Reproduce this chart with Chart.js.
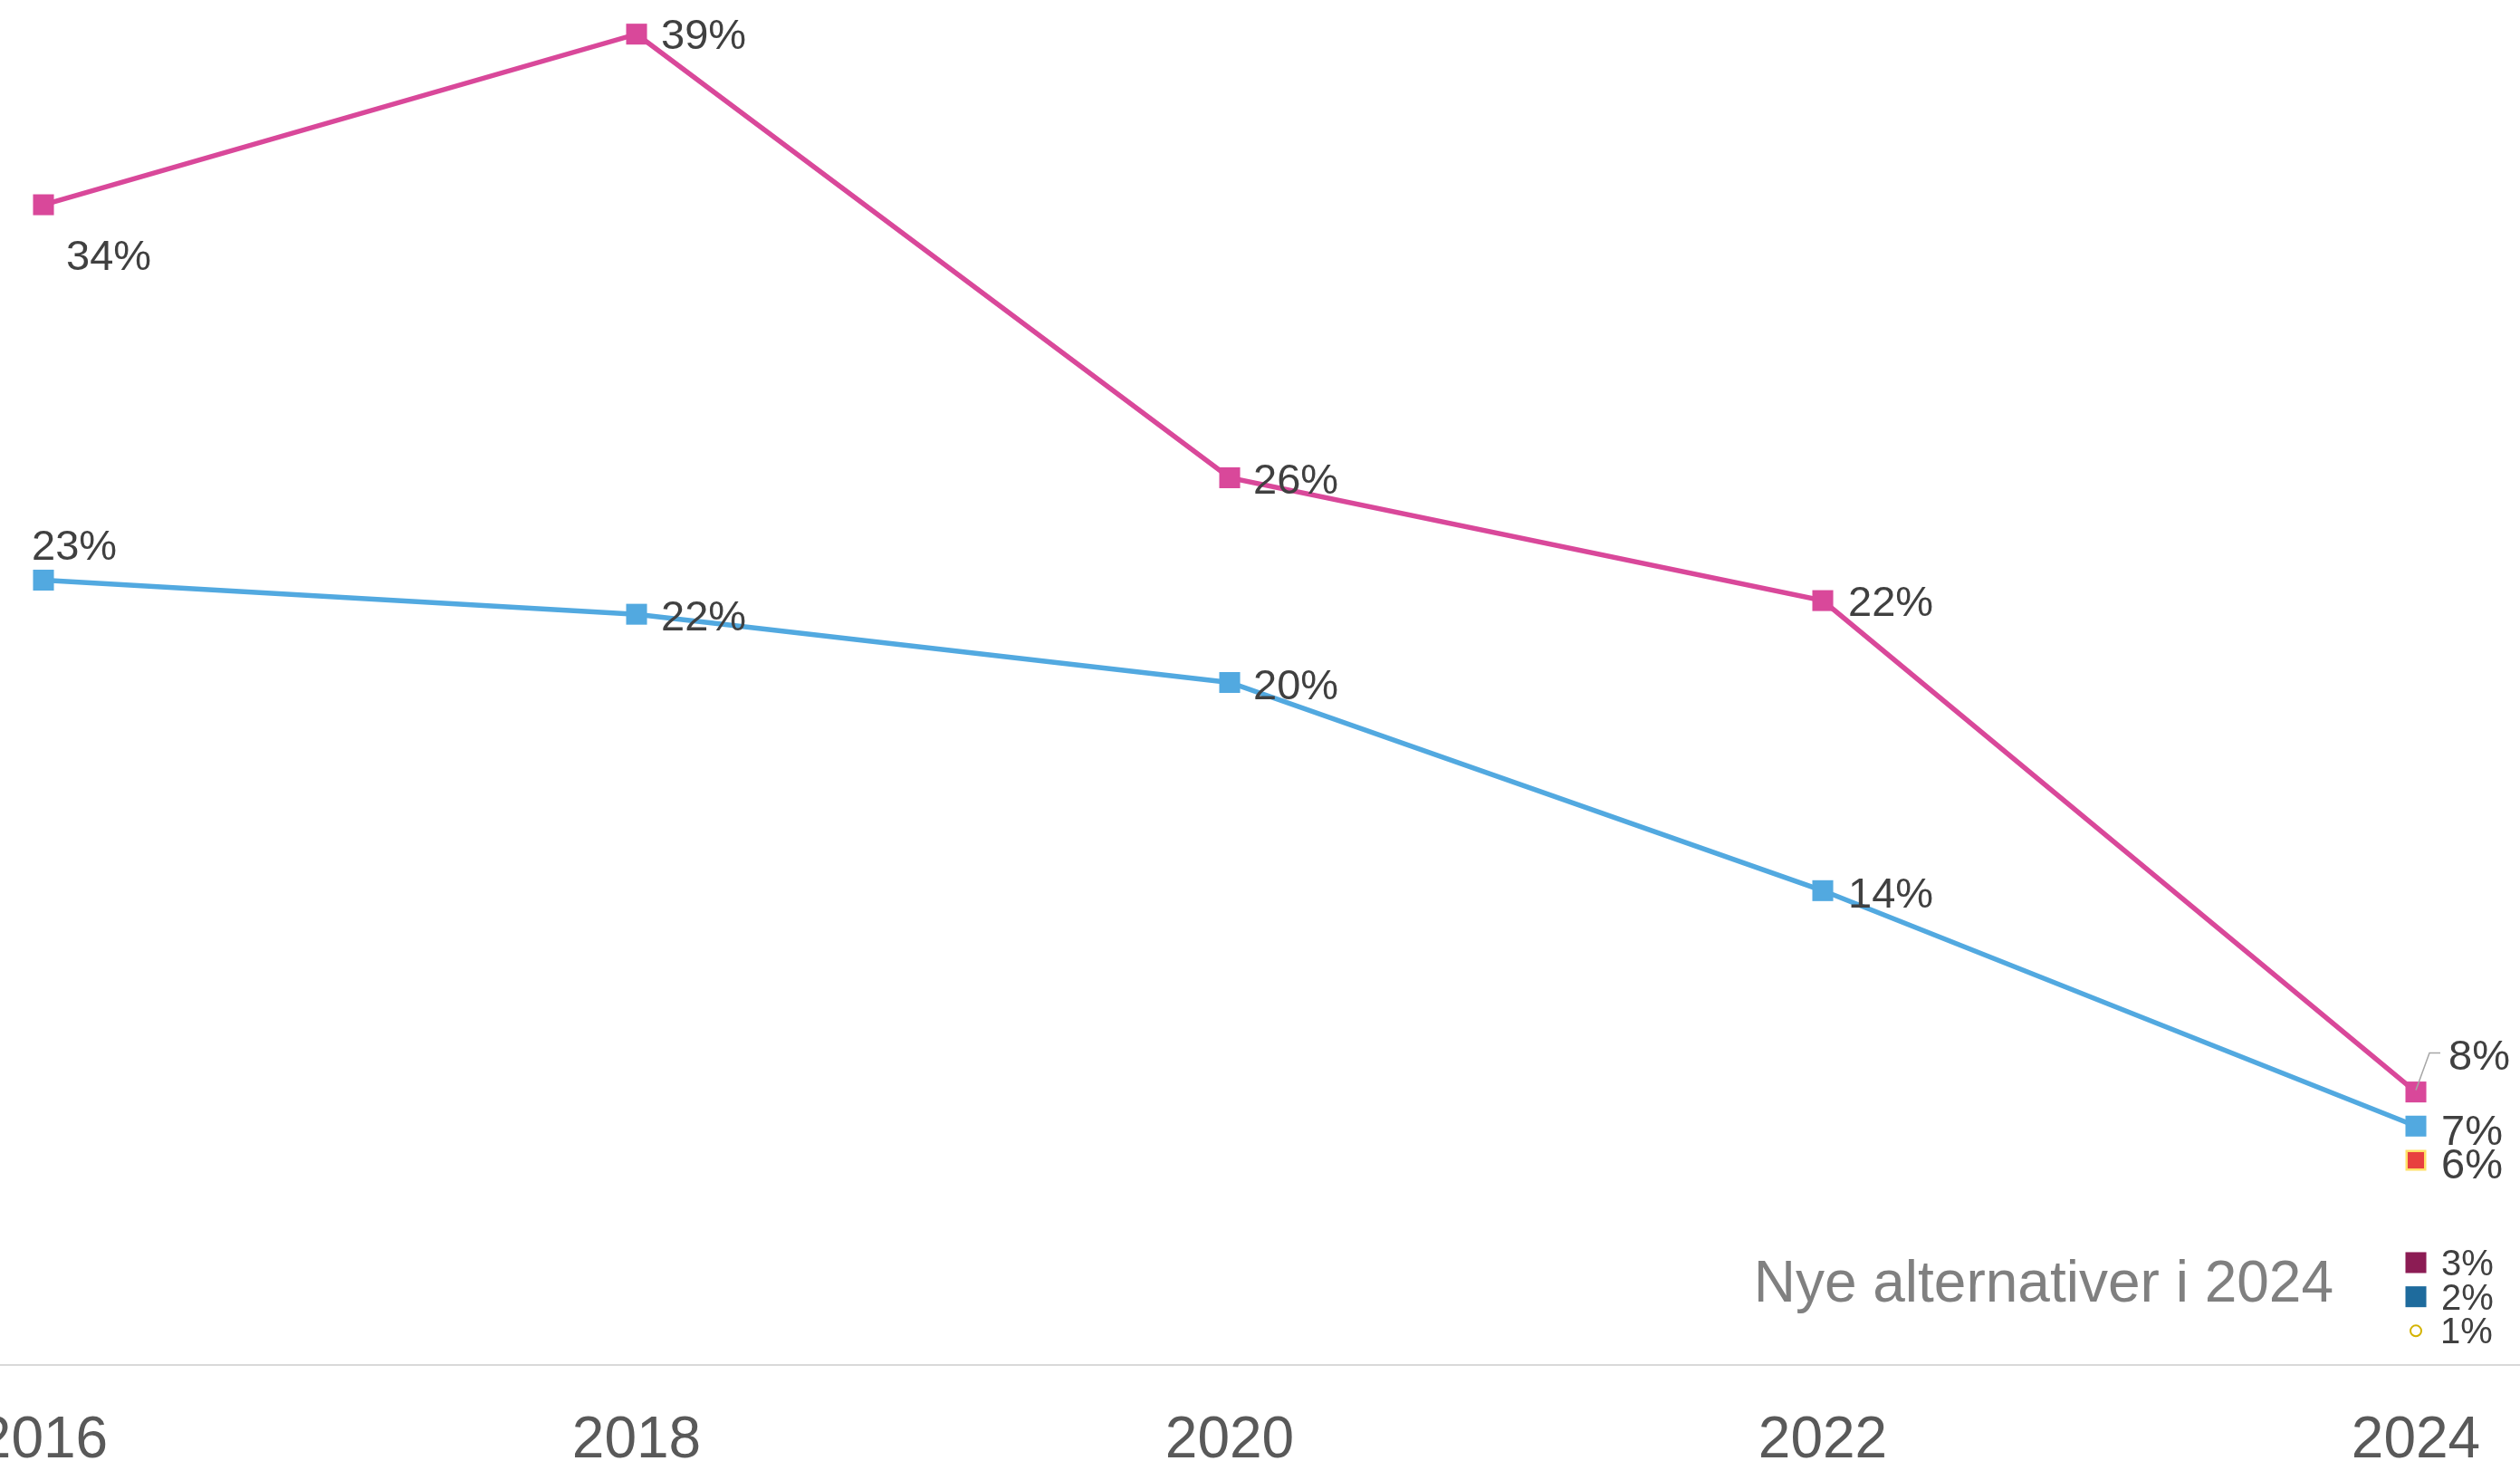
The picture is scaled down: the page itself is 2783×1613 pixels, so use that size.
<!DOCTYPE html>
<html>
<head>
<meta charset="utf-8">
<script src="https://cdn.jsdelivr.net/npm/chart.js@4/dist/chart.umd.min.js"></script>
<style>
html,body{margin:0;padding:0;background:#ffffff;overflow:hidden}
canvas{display:block}
</style>
</head>
<body>
<canvas id="c" width="2783" height="1613"></canvas>
<script>
// ---- data ----
const years = [2016, 2018, 2020, 2022, 2024];
const seriesNames = ['Serie 1', 'Serie 2'];
const pinkValues = [34, 39, 26, 22.4, 8];
const blueValues = [23, 22, 20, 13.9, 7];
const newAltYear = 2024;
const newAltNames = ['Nytt alternativ 1', 'Nytt alternativ 2', 'Nytt alternativ 3', 'Nytt alternativ 4'];
const newAltValues = [6, 3, 2, 1];
const newAltNote = 'Nye alternativer i 2024';
const tickYears = [2016, 2018, 2020, 2022, 2024];

// ---- styles (kept apart from data) ----
const FONT = '"Liberation Sans", Arial, Helvetica, sans-serif';
const LABEL_SHIFT = 3;
const pinkStyle = { color: '#D9489A', labelSize: 47,
  offsets: [[25, 56], [27, 0], [26, 2], [28, 1], [36, -41, true]] };
const blueStyle = { color: '#52A9E0', labelSize: 47,
  offsets: [[-13, -38], [27, 2], [26, 2.5], [28, 3], [28, 5]] };
const newAltStyles = [
  { fill: '#E8403F', border: '#FFE066', bw: 2.5, style: 'rect', r: 14.5, labelSize: 47, off: [28, 4] },
  { fill: '#8C1C54', border: '#8C1C54', bw: 0, style: 'rect', r: 16.3, labelSize: 40, off: [28, 0] },
  { fill: '#1E6B9D', border: '#1E6B9D', bw: 0, style: 'rect', r: 16.3, labelSize: 40, off: [28, 0] },
  { fill: '#FFFFFF', border: '#D4B300', bw: 2, style: 'circle', r: 6, labelSize: 40, off: [27, 0] }
];

function lineDataset(name, values, st) {
  return {
    label: name,
    data: years.map((y, i) => ({ x: y, y: values[i] })),
    borderColor: st.color,
    backgroundColor: st.color,
    borderWidth: 5.5,
    pointStyle: 'rect',
    pointRadius: 16.3,
    pointHoverRadius: 16.3,
    pointBorderWidth: 0,
    pointBackgroundColor: st.color,
    tension: 0,
    labelSize: st.labelSize,
    labelOffsets: st.offsets
  };
}

const datasets = [
  lineDataset(seriesNames[1], blueValues, blueStyle),
  lineDataset(seriesNames[0], pinkValues, pinkStyle)
];
newAltValues.forEach((v, i) => {
  const s = newAltStyles[i];
  datasets.push({
    label: newAltNames[i],
    data: [{ x: newAltYear, y: v }],
    showLine: false,
    pointStyle: s.style,
    pointRadius: s.r,
    pointHoverRadius: s.r,
    pointBackgroundColor: s.fill,
    pointBorderColor: s.border,
    pointBorderWidth: s.bw,
    backgroundColor: s.fill,
    borderColor: s.border,
    labelSize: s.labelSize,
    labelOffsets: [s.off]
  });
});

const labelPlugin = {
  id: 'valueLabels',
  afterDatasetsDraw(chart) {
    const ctx = chart.ctx;
    chart.data.datasets.forEach((ds, di) => {
      const meta = chart.getDatasetMeta(di);
      meta.data.forEach((pt, i) => {
        const v = ds.data[i].y;
        const off = ds.labelOffsets[i];
        ctx.save();
        if (off[2]) {
          ctx.strokeStyle = '#A6A6A6';
          ctx.lineWidth = 1.5;
          ctx.beginPath();
          ctx.moveTo(pt.x, pt.y - 2);
          ctx.lineTo(pt.x + 15, pt.y - 43);
          ctx.lineTo(pt.x + 27, pt.y - 43);
          ctx.stroke();
        }
        ctx.font = ds.labelSize + 'px ' + FONT;
        ctx.fillStyle = '#404040';
        ctx.textAlign = 'left';
        ctx.textBaseline = 'middle';
        ctx.fillText(Math.round(v) + '%', pt.x + off[0], pt.y + off[1] + LABEL_SHIFT);
        ctx.restore();
      });
    });
    const xs = chart.scales.x;
    ctx.save();
    ctx.font = '64px ' + FONT;
    ctx.fillStyle = '#808080';
    ctx.textAlign = 'right';
    ctx.textBaseline = 'middle';
    ctx.fillText(newAltNote, xs.getPixelForValue(newAltYear) - 91, chart.chartArea.bottom - 88);
    ctx.restore();
  }
};

new Chart(document.getElementById('c'), {
  type: 'line',
  data: { datasets },
  plugins: [labelPlugin],
  options: {
    responsive: false,
    animation: false,
    devicePixelRatio: 1,
    layout: { autoPadding: false, padding: { left: 0, right: 0, top: 0, bottom: 0 } },
    plugins: { legend: { display: false }, tooltip: { enabled: false } },
    scales: {
      x: {
        type: 'linear',
        min: 2015.8534,
        max: 2024.3511,
        afterFit(s) { s.paddingLeft = 0; s.paddingRight = 0; s.height = 106; },
        afterBuildTicks(s) { s.ticks = tickYears.map(v => ({ value: v })); },
        grid: { display: false, drawTicks: false },
        border: { display: true, color: '#D9D9D9', width: 2 },
        ticks: {
          padding: 46,
          color: '#595959',
          font: { family: FONT, size: 64 },
          maxRotation: 0,
          autoSkip: false,
          callback: v => String(v)
        }
      },
      y: {
        display: false,
        min: 0,
        max: 40
      }
    }
  }
});
</script>
</body>
</html>
